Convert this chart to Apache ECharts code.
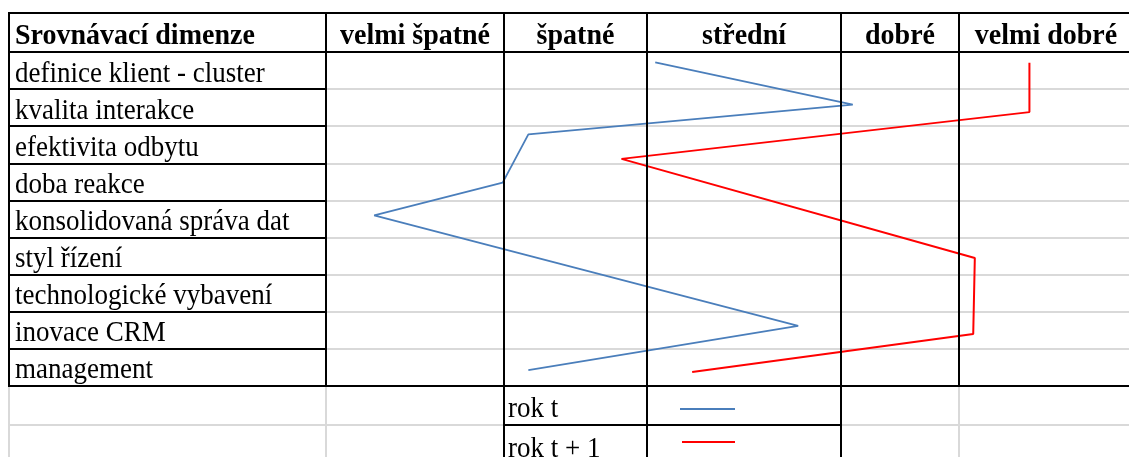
<!DOCTYPE html>
<html><head><meta charset="utf-8">
<script src="https://cdn.jsdelivr.net/npm/echarts@6/dist/echarts.min.js"></script>
<style>html,body{margin:0;padding:0;background:#fff}#c{width:1129px;height:457px}</style>
</head><body><div id="c"></div><script>
// ---------- data ----------
const headerTitle = 'Srovnávací dimenze';
const ratingLevels = ['velmi špatné', 'špatné', 'střední', 'dobré', 'velmi dobré'];
const dimensions = ['definice klient - cluster', 'kvalita interakce', 'efektivita odbytu', 'doba reakce',
  'konsolidovaná správa dat', 'styl řízení', 'technologické vybavení', 'inovace CRM', 'management'];
const seriesNames = ['rok t', 'rok t + 1'];
// score: continuous rating scale 0..5 across the rating columns; row: position in rows (0 = top of first row, 9 = bottom)
const rokTScore  = [2.05, 3.28, 1.26, 1.10, 0.30, 2.94, 1.26];
const rokTRow    = [0.28, 1.42, 2.22, 3.52, 4.40, 7.38, 8.57];
const rokT1Score = [4.38, 4.38, 1.84, 4.04, 4.03, 2.28];
const rokT1Row   = [0.29, 1.62, 2.88, 5.55, 7.60, 8.62];

// ---------- layout ----------
const W = 1129, TOP = 13, HEAD_B = 52, BODY_B = 386, FOOT_MID = 425;
const COLS = [9, 326, 504, 647, 841, 959, 1140];
const FONT = "'Liberation Serif','Times New Roman',serif";
const BLACK = '#000', GRAY = '#d9d9d9';
const BLUE = '#4a7ebb', RED = '#ff0000';

const chart = echarts.init(document.getElementById('c'), null, {renderer: 'canvas'});
chart.setOption({
  animation: false,
  backgroundColor: '#fff',
  grid: [
    {left: COLS[0], top: HEAD_B, width: COLS[1] - COLS[0], height: BODY_B - HEAD_B},
    {left: COLS[1], top: HEAD_B, right: 0, height: BODY_B - HEAD_B}
  ],
  xAxis: [
    {gridIndex: 0, type: 'value', show: false},
    {gridIndex: 1, type: 'value', min: 0, max: (W - COLS[1]) / 160.6, show: false}
  ],
  yAxis: [
    {gridIndex: 0, type: 'category', inverse: true, data: dimensions,
      axisLine: {show: false}, axisTick: {show: false}, axisLabel: {show: false},
      splitLine: {show: true, lineStyle: {color: BLACK, width: 2}}},
    {gridIndex: 1, type: 'value', inverse: true, min: 0, max: 9, interval: 1,
      axisLine: {show: false}, axisTick: {show: false}, axisLabel: {show: false},
      splitLine: {show: true, lineStyle: {color: GRAY, width: 2}}}
  ],
  series: [
    {name: seriesNames[0], type: 'line', xAxisIndex: 1, yAxisIndex: 1, symbol: 'none', z: 8,
      data: rokTScore.map((s, i) => [s, rokTRow[i]]), lineStyle: {color: BLUE, width: 1.8}},
    {name: seriesNames[1], type: 'line', xAxisIndex: 1, yAxisIndex: 1, symbol: 'none', z: 8,
      data: rokT1Score.map((s, i) => [s, rokT1Row[i]]), lineStyle: {color: RED, width: 2}}
  ]
});

const g = [];
function line(x1, y1, x2, y2, color, w, z) {
  g.push({type: 'line', silent: true, z: z || 10, shape: {x1, y1, x2, y2}, style: {stroke: color, lineWidth: w || 2}});
}
function text(t, x, y, font, align, sy) {
  g.push({type: 'text', silent: true, z: 12, x: x, y: y, scaleY: sy || 1, originX: 0, originY: 0,
    style: {text: t, font: font, fill: '#000', verticalAlign: 'middle', align: align}});
}
// footer gray grid
line(COLS[0], BODY_B, COLS[0], 457, GRAY, 2, 5);
line(COLS[1], BODY_B, COLS[1], 457, GRAY, 2, 5);
line(COLS[5], BODY_B, COLS[5], 457, GRAY, 2, 5);
line(COLS[0], FOOT_MID, COLS[2], FOOT_MID, GRAY, 2, 5);
line(COLS[4], FOOT_MID, W, FOOT_MID, GRAY, 2, 5);
// black frame
line(COLS[0] - 1, TOP, W, TOP, BLACK, 2);
line(COLS[0] - 1, HEAD_B, W, HEAD_B, BLACK, 2);
line(COLS[0] - 1, BODY_B, W, BODY_B, BLACK, 2);
[0, 1, 5].forEach(i => line(COLS[i], TOP, COLS[i], BODY_B, BLACK, 2));
[2, 3, 4].forEach(i => line(COLS[i], TOP, COLS[i], 457, BLACK, 2));
line(COLS[2], FOOT_MID, COLS[4], FOOT_MID, BLACK, 2);
// header texts
const HEAD_Y = 36, HF = 'bold 28px ' + FONT;
text(headerTitle, 15, HEAD_Y, HF, 'left', 1.08);
ratingLevels.forEach((t, i) => {
  const cx = i < 4 ? (COLS[i + 1] + COLS[i + 2]) / 2 : (COLS[5] + W) / 2 + 2;
  text(t, cx, HEAD_Y, HF, 'center', 1.08);
});
// row labels placed through the category axis scale
dimensions.forEach(d => {
  const y = chart.convertToPixel({yAxisIndex: 0}, d) + 3;
  text(d, 15, y, '27px ' + FONT, 'left', 1.12);
});
// footer legend
const legendColors = [BLUE, RED];
seriesNames.forEach((n, i) => {
  text(n, 508, i === 0 ? 409 : 449, '27px ' + FONT, 'left', 1.1);
  const ly = i === 0 ? 409 : 442;
  line(i === 0 ? 680 : 682, ly, 735, ly, legendColors[i], i === 0 ? 1.8 : 2, 12);
});
chart.setOption({graphic: g});
</script></body></html>
